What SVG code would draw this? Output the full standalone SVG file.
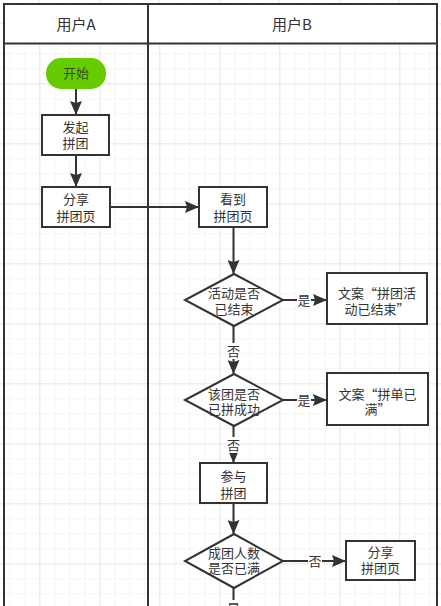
<svg xmlns="http://www.w3.org/2000/svg" width="441" height="606" viewBox="0 0 441 606">
<defs>
<pattern id="gMinor" x="9.3" y="8.3" width="15" height="15" patternUnits="userSpaceOnUse">
<path d="M0,0 H15 M0,0 V15" fill="none" stroke="#ececec" stroke-width="1"/>
</pattern>
<pattern id="gMajor" x="39.3" y="23.3" width="60" height="60" patternUnits="userSpaceOnUse">
<path d="M0,0 H60 M0,0 V60" fill="none" stroke="#dcdcdc" stroke-width="1"/>
</pattern>
<marker id="arr" markerUnits="userSpaceOnUse" markerWidth="14" markerHeight="12" refX="14" refY="6" orient="auto">
<path d="M0,0 L14,6 L0,12 L2,6 z" fill="#333"/>
</marker>
</defs>
<style>
.box{fill:#fff;stroke:#333;stroke-width:2}
.lane{fill:none;stroke:#333;stroke-width:2}
.hdr{fill:#fff;stroke:#333;stroke-width:2}
.t{font-family:"Noto Sans CJK SC","Microsoft YaHei",sans-serif;font-size:13px;fill:#333;text-anchor:middle}
.h{font-family:"Noto Sans CJK SC","Microsoft YaHei",sans-serif;font-size:15px;fill:#333;text-anchor:middle}
.c{fill:none;stroke:#333;stroke-width:2}
.lb{fill:#fff}
</style>
<rect width="441" height="606" fill="#fff"/>
<rect width="441" height="606" fill="url(#gMinor)"/>
<rect width="441" height="606" fill="url(#gMajor)"/>

<g id="lanes">
<rect class="hdr" x="4" y="4" width="144" height="39.5"/>
<rect class="hdr" x="148" y="4" width="289" height="39.5"/>
<line class="lane" x1="4" y1="43.5" x2="4" y2="607"/>
<line class="lane" x1="148" y1="43.5" x2="148" y2="607"/>
<line class="lane" x1="437" y1="43.5" x2="437" y2="607"/>
<text class="h" x="76" y="30">用户A</text>
<text class="h" x="292" y="30">用户B</text>
</g>

<g id="connectors">
<line class="c" x1="76" y1="89" x2="76" y2="115" marker-end="url(#arr)"/>
<line class="c" x1="76" y1="155" x2="76" y2="187" marker-end="url(#arr)"/>
<line class="c" x1="110" y1="207" x2="199" y2="207" marker-end="url(#arr)"/>
<line class="c" x1="233.5" y1="227" x2="233.5" y2="274" marker-end="url(#arr)"/>
<line class="c" x1="283" y1="300" x2="327" y2="300" marker-end="url(#arr)"/>
<line class="c" x1="233.5" y1="326" x2="233.5" y2="374" marker-end="url(#arr)"/>
<line class="c" x1="283" y1="400" x2="327" y2="400" marker-end="url(#arr)"/>
<line class="c" x1="233.5" y1="426" x2="233.5" y2="463" marker-end="url(#arr)"/>
<line class="c" x1="233.5" y1="503" x2="233.5" y2="534" marker-end="url(#arr)"/>
<line class="c" x1="283" y1="561" x2="346" y2="561" marker-end="url(#arr)"/>
<line class="c" x1="233.5" y1="588" x2="233.5" y2="610"/>
<rect class="lb" x="297" y="292" width="14" height="16"/>
<text class="t" x="304" y="305">是</text>
<rect class="lb" x="226.5" y="343" width="14" height="16"/>
<text class="t" x="233.5" y="356">否</text>
<rect class="lb" x="297" y="392" width="14" height="16"/>
<text class="t" x="304" y="405">是</text>
<rect class="lb" x="226.5" y="437" width="14" height="16"/>
<text class="t" x="233.5" y="450">否</text>
<rect class="lb" x="308" y="553" width="14" height="16"/>
<text class="t" x="315" y="566">否</text>
<rect class="lb" x="226.5" y="600" width="14" height="16"/>
<text class="t" x="233.5" y="613">是</text>
</g>

<g id="start">
<rect x="46" y="58" width="60" height="31" rx="15" ry="15" fill="#66cc00"/>
<text class="t" x="76" y="78" style="fill:#2f4f1a">开始</text>
</g>
<g id="n1">
<rect class="box" x="42" y="115" width="67" height="40"/>
<text class="t" x="75.5" y="131.5">发起</text>
<text class="t" x="75.5" y="148">拼团</text>
</g>
<g id="n2">
<rect class="box" x="42" y="187" width="68" height="40"/>
<text class="t" x="76" y="204">分享</text>
<text class="t" x="76" y="220.5">拼团页</text>
</g>
<g id="n3">
<rect class="box" x="199" y="187" width="68" height="40"/>
<text class="t" x="233" y="204">看到</text>
<text class="t" x="233" y="220.5">拼团页</text>
</g>
<g id="d1">
<polygon class="box" points="234,274 283,300 234,326 185,300"/>
<text class="t" x="234" y="297.5">活动是否</text>
<text class="t" x="234" y="314">已结束</text>
</g>
<g id="b1">
<rect class="box" x="327" y="273" width="100" height="51"/>
<text class="t" x="377" y="298">文案“拼团活</text>
<text class="t" x="377" y="314">动已结束”</text>
</g>
<g id="d2">
<polygon class="box" points="234,374 283,400 234,426 185,400"/>
<text class="t" x="234" y="398.5">该团是否</text>
<text class="t" x="234" y="414">已拼成功</text>
</g>
<g id="b2">
<rect class="box" x="327" y="373" width="101" height="52"/>
<text class="t" x="377.5" y="398.5">文案“拼单已</text>
<text class="t" x="377.5" y="414">满”</text>
</g>
<g id="n4">
<rect class="box" x="200" y="463" width="67" height="40"/>
<text class="t" x="233.5" y="481">参与</text>
<text class="t" x="233.5" y="497.5">拼团</text>
</g>
<g id="d3">
<polygon class="box" points="234,534 283,561 234,588 185,561"/>
<text class="t" x="234" y="558">成团人数</text>
<text class="t" x="234" y="573">是否已满</text>
</g>
<g id="n5">
<rect class="box" x="346" y="541" width="69" height="39"/>
<text class="t" x="380.5" y="556.5">分享</text>
<text class="t" x="380.5" y="573">拼团页</text>
</g>
</svg>
